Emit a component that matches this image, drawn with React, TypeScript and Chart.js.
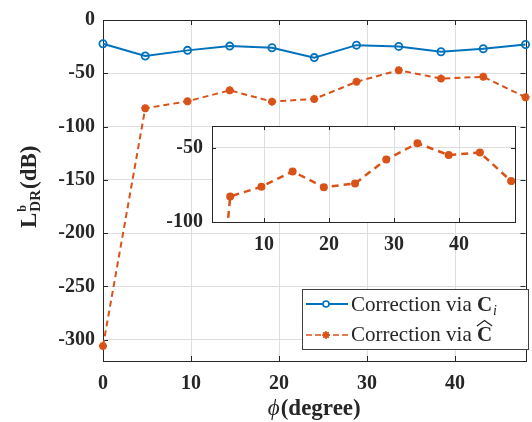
import React, { useEffect, useRef } from 'react';
import { Chart, registerables } from 'chart.js';
Chart.register(...registerables);

const phiDeg = [0, 4.8, 9.6, 14.4, 19.2, 24, 28.8, 33.6, 38.4, 43.2, 48];
const viaCi = [-22.3, -33.8, -28.5, -24.5, -26, -35.3, -23.6, -24.8, -29.8, -27, -23];
const viaChat = [-306, -82.8, -76.3, -66, -76.6, -74.1, -58, -47.1, -55, -53.3, -72.5];
const mainXTicks = [0, 10, 20, 30, 40];
const mainYTicks = [-300, -250, -200, -150, -100, -50, 0];
const insetXTicks = [10, 20, 30, 40];
const insetYTicks = [-100, -50];
const legendText = 'Correction via';
const xTitle = ['\u03D5', '(degree)'];
const yTitle = ['L', 'b', 'DR', '(dB)'];

const BLUE = '#0072BD';
const ORANGE = '#D95319';
const AXIS = '#262626';
const GRID = '#dedede';
const SERIF = '"Liberation Serif", "Times New Roman", serif';
const tickFont = { family: SERIF, size: 20, weight: 'bold' as const };

const pts = (ys: number[]) => phiDeg.map((x, i) => ({ x, y: ys[i] }));

function frameAndTicks(len: number) {
  return {
    id: 'frameTicks',
    beforeDatasetsDraw(chart: any) {
      const { ctx, chartArea: a } = chart;
      const xs = chart.scales.x;
      const ys = chart.scales.y;
      ctx.save();
      ctx.strokeStyle = AXIS;
      ctx.lineWidth = 1;
      ctx.beginPath();
      xs.ticks.forEach((t: any) => {
        const px = Math.round(xs.getPixelForValue(t.value)) + 0.5;
        ctx.moveTo(px, a.bottom);
        ctx.lineTo(px, a.bottom - len);
        ctx.moveTo(px, a.top);
        ctx.lineTo(px, a.top + len);
      });
      ys.ticks.forEach((t: any) => {
        const py = Math.round(ys.getPixelForValue(t.value)) + 0.5;
        ctx.moveTo(a.left, py);
        ctx.lineTo(a.left + len, py);
        ctx.moveTo(a.right, py);
        ctx.lineTo(a.right - len, py);
      });
      ctx.stroke();
      ctx.strokeRect(Math.round(a.left) + 0.5, Math.round(a.top) + 0.5, Math.round(a.right - a.left), Math.round(a.bottom - a.top));
      ctx.restore();
    },
  };
}

const whiteArea = {
  id: 'whiteArea',
  beforeDraw(chart: any) {
    const { ctx, chartArea: a } = chart;
    ctx.save();
    ctx.fillStyle = '#ffffff';
    ctx.fillRect(a.left, a.top, a.right - a.left, a.bottom - a.top);
    ctx.restore();
  },
};

const titlesAndLegend = {
  id: 'titlesAndLegend',
  afterDraw(chart: any) {
    const { ctx, chartArea: a } = chart;
    ctx.save();
    ctx.fillStyle = AXIS;
    ctx.textBaseline = 'alphabetic';
    // x title
    ctx.font = `italic 23px ${SERIF}`;
    const w1 = ctx.measureText(xTitle[0]).width;
    ctx.font = `bold 23px ${SERIF}`;
    const w2 = ctx.measureText(xTitle[1]).width;
    const cx = (a.left + a.right) / 2;
    const sx = cx - (w1 + w2 + 1) / 2;
    ctx.font = `italic 23px ${SERIF}`;
    ctx.fillText(xTitle[0], sx, 415);
    ctx.font = `bold 23px ${SERIF}`;
    ctx.fillText(xTitle[1], sx + w1 + 1, 415);
    // y title
    ctx.save();
    ctx.translate(36, 228);
    ctx.rotate(-Math.PI / 2);
    ctx.font = `bold 23px ${SERIF}`;
    ctx.fillText(yTitle[0], 0, 0);
    const wl = ctx.measureText(yTitle[0]).width;
    ctx.font = `bold 12px ${SERIF}`;
    ctx.fillText(yTitle[1], wl + 1, -10);
    ctx.font = `bold 15px ${SERIF}`;
    ctx.fillText(yTitle[2], wl + 1, 4);
    const wd = ctx.measureText(yTitle[2]).width;
    ctx.font = `bold 23px ${SERIF}`;
    ctx.fillText(yTitle[3], wl + wd + 2, 0);
    ctx.restore();
    // legend
    const bx = 302.5, by = 289.5, bw = 226, bh = 60;
    ctx.fillStyle = '#ffffff';
    ctx.fillRect(bx, by, bw, bh);
    ctx.strokeStyle = '#404040';
    ctx.lineWidth = 1;
    ctx.strokeRect(bx, by, bw, bh);
    // item 1
    ctx.strokeStyle = BLUE;
    ctx.lineWidth = 2;
    ctx.beginPath();
    ctx.moveTo(306, 304);
    ctx.lineTo(348, 304);
    ctx.stroke();
    ctx.fillStyle = '#ffffff';
    ctx.beginPath();
    ctx.arc(326, 304, 3, 0, Math.PI * 2);
    ctx.fill();
    ctx.lineWidth = 1.6;
    ctx.stroke();
    // item 2
    ctx.strokeStyle = ORANGE;
    ctx.lineWidth = 1.5;
    ctx.setLineDash([6, 3]);
    ctx.beginPath();
    ctx.moveTo(306, 335);
    ctx.lineTo(348, 335);
    ctx.stroke();
    ctx.setLineDash([]);
    ctx.fillStyle = ORANGE;
    ctx.beginPath();
    ctx.arc(326, 335, 3, 0, Math.PI * 2);
    ctx.fill();
    ctx.lineWidth = 1.5;
    ctx.beginPath();
    for (let k = 0; k < 4; k++) {
      const ang = (k * Math.PI) / 4;
      ctx.moveTo(326 - 4 * Math.cos(ang), 335 - 4 * Math.sin(ang));
      ctx.lineTo(326 + 4 * Math.cos(ang), 335 + 4 * Math.sin(ang));
    }
    ctx.stroke();
    // texts
    ctx.fillStyle = AXIS;
    ctx.font = `21px ${SERIF}`;
    ctx.fillText(legendText, 351, 311);
    ctx.fillText(legendText, 351, 341);
    const tw = ctx.measureText(legendText + ' ').width;
    ctx.font = `bold 21px ${SERIF}`;
    ctx.fillText('C', 351 + tw, 311);
    ctx.fillText('C', 351 + tw, 341);
    const cw = ctx.measureText('C').width;
    ctx.font = `italic 14px ${SERIF}`;
    ctx.fillText('i', 351 + tw + cw + 1, 315);
    // wide hat
    ctx.strokeStyle = AXIS;
    ctx.lineWidth = 1.3;
    ctx.beginPath();
    ctx.moveTo(351 + tw, 326);
    ctx.lineTo(351 + tw + cw / 2, 320.5);
    ctx.lineTo(351 + tw + cw, 326);
    ctx.stroke();
    ctx.restore();
  },
};

export default function App() {
  const mainRef = useRef<HTMLCanvasElement>(null);
  const insetRef = useRef<HTMLCanvasElement>(null);

  useEffect(() => {
    const main = new Chart(mainRef.current!, {
      type: 'line',
      data: {
        datasets: [
          {
            data: pts(viaCi),
            borderColor: BLUE,
            borderWidth: 2,
            pointStyle: 'circle',
            pointRadius: 3.6,
            pointBorderWidth: 1.8,
            pointBorderColor: BLUE,
            pointBackgroundColor: 'rgba(255,255,255,0)',
            clip: false as any,
          },
          {
            data: pts(viaChat),
            borderColor: ORANGE,
            borderWidth: 2,
            borderDash: [6, 4],
            pointStyle: 'star',
            pointRadius: 4,
            pointBorderWidth: 2.5,
            pointBorderColor: ORANGE,
            pointBackgroundColor: ORANGE,
            clip: false as any,
          },
        ],
      },
      options: {
        animation: false,
        responsive: false,
        devicePixelRatio: 1,
        layout: { padding: { top: 17, right: 1, left: 0, bottom: 0 } },
        plugins: { legend: { display: false }, tooltip: { enabled: false } },
        scales: {
          x: {
            type: 'linear',
            min: 0,
            max: 48,
            afterFit: (s: any) => { s.height = 61; },
            afterBuildTicks: (s: any) => { s.ticks = mainXTicks.map((v) => ({ value: v })); },
            grid: { color: GRID, drawTicks: false },
            border: { display: false },
            ticks: { font: tickFont, color: AXIS, padding: 11, maxRotation: 0, autoSkip: false },
          },
          y: {
            type: 'linear',
            min: -320,
            max: 0,
            afterFit: (s: any) => { s.width = 103; },
            afterBuildTicks: (s: any) => { s.ticks = mainYTicks.map((v) => ({ value: v })); },
            grid: { color: GRID, drawTicks: false },
            border: { display: false },
            ticks: { font: tickFont, color: AXIS, padding: 8, autoSkip: false },
          },
        },
      },
      plugins: [frameAndTicks(5), titlesAndLegend],
    });

    const inset = new Chart(insetRef.current!, {
      type: 'line',
      data: {
        datasets: [
          {
            data: pts(viaChat),
            borderColor: ORANGE,
            borderWidth: 2.5,
            borderDash: [7, 5],
            pointStyle: 'circle',
            pointRadius: 4,
            pointBorderWidth: 0,
            pointBackgroundColor: ORANGE,
          },
        ],
      },
      options: {
        animation: false,
        responsive: false,
        devicePixelRatio: 1,
        layout: { padding: { top: 14, right: 10, left: 0, bottom: 0 } },
        plugins: { legend: { display: false }, tooltip: { enabled: false } },
        scales: {
          x: {
            type: 'linear',
            min: 2,
            max: 48.6,
            afterFit: (s: any) => { s.height = 43; },
            afterBuildTicks: (s: any) => { s.ticks = insetXTicks.map((v) => ({ value: v })); },
            grid: { color: GRID, drawTicks: false },
            border: { display: false },
            ticks: { font: tickFont, color: AXIS, padding: 11, maxRotation: 0, autoSkip: false },
          },
          y: {
            type: 'linear',
            min: -100,
            max: -35.5,
            afterFit: (s: any) => { s.width = 62; },
            afterBuildTicks: (s: any) => { s.ticks = insetYTicks.map((v) => ({ value: v })); },
            grid: { color: GRID, drawTicks: false },
            border: { display: false },
            ticks: { font: tickFont, color: AXIS, padding: 9, autoSkip: false },
          },
        },
      },
      plugins: [whiteArea, frameAndTicks(4)],
    });

    return () => {
      main.destroy();
      inset.destroy();
    };
  }, []);

  return (
    <div style={{ position: 'fixed', left: 0, top: 0, width: 532, height: 422, background: '#ffffff' }}>
      <canvas ref={mainRef} width={532} height={422} style={{ position: 'absolute', left: 0, top: 0 }} />
      <canvas ref={insetRef} width={375} height={160} style={{ position: 'absolute', left: 150, top: 105 }} />
    </div>
  );
}
